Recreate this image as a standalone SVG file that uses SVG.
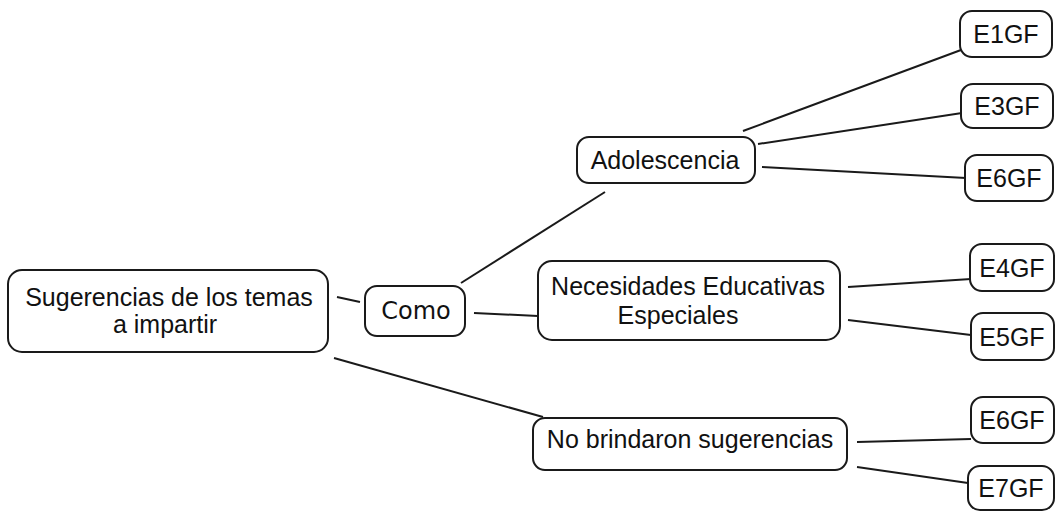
<svg xmlns="http://www.w3.org/2000/svg" width="1056" height="512" viewBox="0 0 1056 512">
<style>
.box{fill:#fff;stroke:#1a1a1a;stroke-width:2}
.t{font-family:"Liberation Sans",Arial,sans-serif;font-size:25px;fill:#111;text-anchor:middle}
.d{font-family:"DejaVu Sans",sans-serif;font-size:24px;fill:#111;text-anchor:middle}
.c line{stroke:#1a1a1a;stroke-width:2}
</style>
<rect width="1056" height="512" fill="#fff"/>
<g class="c" id="connectors">
<line x1="337" y1="297" x2="360" y2="302"/>
<line x1="461" y1="283" x2="605" y2="192"/>
<line x1="474" y1="313" x2="538" y2="316"/>
<line x1="334" y1="358" x2="543" y2="417"/>
<line x1="743" y1="131" x2="961" y2="50"/>
<line x1="758" y1="144" x2="962" y2="113"/>
<line x1="762" y1="167" x2="966" y2="178"/>
<line x1="848" y1="287" x2="971" y2="279"/>
<line x1="848" y1="320" x2="971" y2="335"/>
<line x1="857" y1="442" x2="971" y2="439"/>
<line x1="857" y1="467" x2="968" y2="483"/>
</g>
<g id="root"><rect class="box" x="8" y="270" width="320" height="82" rx="14"/><text class="t" x="169" y="306">Sugerencias de los temas</text><text class="t" x="165" y="333">a impartir</text></g>
<g id="como"><rect class="box" x="365" y="286" width="100" height="50" rx="12"/><text class="d" x="416" y="319">Como</text></g>
<g id="adolescencia"><rect class="box" x="577" y="137" width="178" height="46" rx="12"/><text class="t" x="665" y="169">Adolescencia</text></g>
<g id="necesidades"><rect class="box" x="538" y="261" width="302" height="79" rx="14"/><text class="t" x="688" y="295">Necesidades Educativas</text><text class="t" x="678" y="324">Especiales</text></g>
<g id="nobrindaron"><rect class="box" x="533" y="418" width="314" height="52" rx="12"/><text class="t" x="690" y="448">No brindaron sugerencias</text></g>
<g id="e1gf"><rect class="box" x="960" y="11" width="92" height="46" rx="12"/><text class="t" x="1006" y="43">E1GF</text></g>
<g id="e3gf"><rect class="box" x="961" y="84" width="92" height="44" rx="12"/><text class="t" x="1007" y="115">E3GF</text></g>
<g id="e6gf-a"><rect class="box" x="965" y="155" width="88" height="46" rx="12"/><text class="t" x="1009" y="187">E6GF</text></g>
<g id="e4gf"><rect class="box" x="970" y="244" width="84" height="47" rx="12"/><text class="t" x="1012" y="277">E4GF</text></g>
<g id="e5gf"><rect class="box" x="971" y="313" width="83" height="47" rx="12"/><text class="t" x="1012" y="346">E5GF</text></g>
<g id="e6gf-b"><rect class="box" x="971" y="397" width="83" height="46" rx="12"/><text class="t" x="1012" y="429">E6GF</text></g>
<g id="e7gf"><rect class="box" x="968" y="466" width="86" height="44" rx="12"/><text class="t" x="1011" y="497">E7GF</text></g>
</svg>
